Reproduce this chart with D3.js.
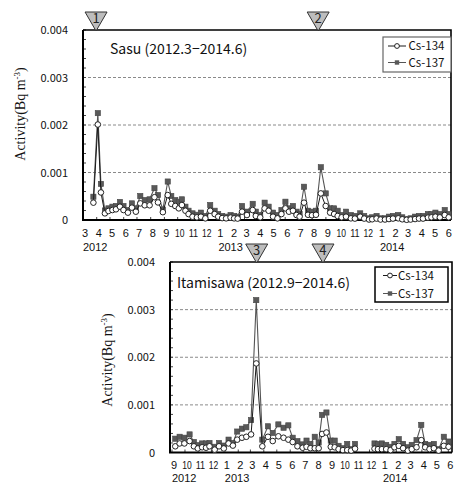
<!DOCTYPE html>
<html>
<head>
<meta charset="utf-8">
<script src="https://cdn.jsdelivr.net/npm/d3@7"></script>
<style>
  body { margin: 0; background: #fff; }
  svg { display: block; }
</style>
</head>
<body>
<svg id="chart" width="457" height="485"></svg>
<script>
// ---- Sasu monitoring station (2012.3 - 2014.6), Bq m^-3 ----
const sasuDates = [
  "2012-03-20","2012-03-30","2012-04-06","2012-04-15","2012-04-23","2012-05-02","2012-05-10","2012-05-19",
  "2012-05-27","2012-06-06","2012-06-15","2012-06-24","2012-07-04","2012-07-14","2012-07-25","2012-08-05",
  "2012-08-13","2012-08-24","2012-09-04","2012-09-12","2012-09-21","2012-09-29","2012-10-06","2012-10-14",
  "2012-10-21","2012-10-30","2012-11-09","2012-11-18","2012-11-28","2012-12-09","2012-12-19","2012-12-27",
  "2013-01-05","2013-01-14","2013-01-24","2013-02-01","2013-02-09","2013-02-19","2013-03-02","2013-03-15",
  "2013-03-22","2013-04-01","2013-04-11","2013-04-20","2013-04-30","2013-05-10","2013-05-19","2013-05-28",
  "2013-06-05","2013-06-14","2013-06-22","2013-06-29","2013-07-09","2013-07-18","2013-07-27","2013-08-05",
  "2013-08-16","2013-08-27","2013-09-06","2013-09-15","2013-09-23","2013-10-02","2013-10-12","2013-10-23",
  "2013-11-01","2013-11-13","2013-11-22","2013-12-03","2013-12-10","2013-12-20","2013-12-29","2014-01-08",
  "2014-01-17","2014-01-26","2014-02-07","2014-02-16","2014-02-26","2014-03-07","2014-03-17","2014-03-26",
  "2014-04-04","2014-04-15","2014-04-23","2014-05-02","2014-05-12","2014-05-23","2014-06-01"
];
const sasuCs134 = [
  0.000365,0.00201,0.00058,0.00014,0.00019,0.00021,0.000225,0.00028,
  0.00021,0.000155,0.00026,0.000175,0.00035,0.00031,0.00031,0.00048,
  0.00037,0.000165,0.000525,0.00034,0.000295,0.000245,0.000315,0.000195,
  0.000125,0.00007,0.000056,0.00007,0.000035,0.000195,0.000125,0.00007,
  0.00004,0.000035,0.00005,0.000035,0.00003,0.000175,0.000105,0.00021,
  0.000085,0.000056,0.000245,0.000195,0.00007,0.000035,0.000125,0.000245,
  0.000175,0.000195,0.000105,0.00007,0.000365,0.00011,0.0001,0.00011,
  0.00056,0.000295,0.000155,0.000125,0.000085,0.000056,0.00007,0.000035,
  0.00003,0.00007,0.00003,0.00001,0.000015,0.00003,0.00001,0.00001,
  0.00002,0.00003,0.000035,0.000015,0.000005,0.00001,0.00002,0.00003,
  0.00003,0.00005,0.000056,0.00007,0.000056,0.000105,0.000056
];
const sasuCs137 = [
  0.00049,0.00225,0.00076,0.0002,0.000245,0.00028,0.000295,0.00038,
  0.000295,0.00021,0.00035,0.000245,0.000505,0.00042,0.000435,0.00067,
  0.000525,0.00022,0.00081,0.000505,0.00042,0.000385,0.000435,0.00028,
  0.000195,0.00014,0.00011,0.000155,0.000085,0.000315,0.000195,0.000125,
  0.000085,0.00007,0.000105,0.000085,0.00007,0.000295,0.000175,0.00034,
  0.000175,0.000105,0.000365,0.00028,0.000155,0.000105,0.00021,0.000385,
  0.000245,0.000295,0.000175,0.000125,0.0007,0.000195,0.000175,0.000195,
  0.00111,0.00056,0.000245,0.000245,0.000195,0.000105,0.000175,0.000105,
  0.000085,0.00014,0.000085,0.000035,0.000056,0.000085,0.000035,0.000035,
  0.00007,0.000085,0.000105,0.000056,0.000015,0.000035,0.00007,0.000085,
  0.000085,0.000125,0.000125,0.000155,0.000125,0.00021,0.000125
];

// ---- Itamisawa monitoring station (2012.9 - 2014.6); null = no sampling ----
const itaDates = [
  "2012-09-04","2012-09-14","2012-09-25","2012-10-07","2012-10-17","2012-10-26","2012-11-05","2012-11-14",
  "2012-11-22","2012-12-04","2012-12-14","2012-12-25","2013-01-05","2013-01-15","2013-01-25","2013-02-05",
  "2013-02-15","2013-02-26","2013-03-10","2013-03-24","2013-04-06","2013-04-17","2013-04-30","2013-05-12",
  "2013-05-23","2013-06-02","2013-06-13","2013-06-25","2013-07-04","2013-07-13","2013-07-23","2013-08-01",
  "2013-08-09","2013-08-19","2013-08-29","2013-09-07","2013-09-16","2013-09-26","2013-10-06","2013-10-15",
  "2013-10-24","2013-11-15","2013-12-08","2013-12-16","2013-12-25","2014-01-04","2014-01-14","2014-01-23",
  "2014-02-02","2014-02-12","2014-02-23","2014-03-04","2014-03-15","2014-03-26","2014-04-04","2014-04-14",
  "2014-04-24","2014-05-05","2014-05-17","2014-05-28"
];
const itaCs134 = [
  0.00013,0.00019,0.00019,0.00024,0.00013,0.000085,0.00011,0.0001,
  0.00013,0.00006,0.00013,0.000085,0.00019,0.000145,0.00027,0.00031,
  0.00033,0.00038,0.00187,0.00013,0.00033,0.00024,0.00034,0.00031,
  0.00027,0.00022,0.00013,0.0001,0.00012,0.00009,0.00009,0.00009,
  0.00039,0.00042,0.00012,0.00011,0.00007,0.00005,0.00005,0.00004,
  0.00008,null,0.00008,0.00007,0.00007,0.00007,0.00005,0.00011,
  0.00014,0.00009,0.00004,0.00007,0.00011,0.00026,0.00011,0.00007,
  0.00009,0.00004,0.00014,0.00012
];
const itaCs137 = [
  0.00029,0.00033,0.00031,0.00038,0.00022,0.000155,0.00019,0.00019,
  0.0002,0.00012,0.0002,0.000145,0.00027,0.0002,0.00044,0.0005,
  0.00053,0.00068,0.0032,0.00027,0.00055,0.00041,0.00059,0.00052,
  0.00057,0.00031,0.00024,0.00017,0.00025,0.00018,0.00033,0.00021,
  0.00079,0.00084,0.00025,0.00025,0.00014,0.00009,0.00018,0.00007,
  0.00018,null,0.00019,0.00018,0.00019,0.00016,0.00012,0.00018,
  0.00028,0.00018,0.00011,0.00016,0.00026,0.00058,0.00018,0.00016,
  0.00018,0.00007,0.00033,0.00023
];

// Shared axis / legend content
const yTicks = [0, 0.001, 0.002, 0.003, 0.004];
const yTickLabels = ["0", "0.001", "0.002", "0.003", "0.004"];
const seriesNames = ["Cs-134", "Cs-137"];

// Numbered event markers above each panel
const sasuEventLabels = ["1", "2"];
const sasuEventDates = ["2012-03-26", "2013-08-10"];
const itaEventLabels = ["3", "4"];
const itaEventDates = ["2013-03-11", "2013-08-11"];

const parse = d3.utcParse("%Y-%m-%d");
const svg = d3.select("#chart");
svg.append("rect").attr("width", 457).attr("height", 485).attr("fill", "#fff");

const GOTHIC = "'Noto Sans CJK JP', 'Noto Sans', sans-serif";
const DIGITS = "'Liberation Sans', Arial, sans-serif";
const SERIF = "'Liberation Serif', 'DejaVu Serif', serif";

function drawPanel(cfg) {
  const g = svg.append("g");
  const x = d3.scaleUtc().domain([new Date(cfg.start), new Date(cfg.end)])
    .range([cfg.left, cfg.right]);
  const y = d3.scaleLinear().domain([0, 0.004]).range([cfg.bottom, cfg.top]);

  // dashed gridlines
  g.selectAll("line.grid").data(yTicks.filter(v => v > 0 && v < 0.004)).join("line")
    .attr("x1", cfg.left).attr("x2", cfg.right)
    .attr("y1", d => y(d)).attr("y2", d => y(d))
    .attr("stroke", "#8a8a8a").attr("stroke-width", 1).attr("stroke-dasharray", "3,2");

  // minor ticks on the value axis (inside)
  const minor = d3.range(0, 21).map(i => i * 0.0002);
  g.selectAll("line.minor").data(minor).join("line")
    .attr("x1", cfg.left).attr("x2", cfg.left + 3)
    .attr("y1", d => y(d)).attr("y2", d => y(d))
    .attr("stroke", "#444").attr("stroke-width", 1);

  // month ticks on the time axis (inside)
  const months = d3.utcMonth.range(new Date(cfg.firstMonth), d3.utcMonth.offset(new Date(cfg.lastMonth), 1));
  g.selectAll("line.mt").data(months).join("line")
    .attr("x1", d => x(d) - 2).attr("x2", d => x(d) - 2)
    .attr("y1", cfg.bottom).attr("y2", cfg.bottom - 3)
    .attr("stroke", "#444").attr("stroke-width", 1);

  // frame: top and right
  g.append("path")
    .attr("d", `M${cfg.left},${cfg.top}H${cfg.right}V${cfg.bottom}`)
    .attr("fill", "none").attr("stroke", "#000").attr("stroke-width", 1.6);
  // axes: left and bottom
  g.append("path")
    .attr("d", `M${cfg.left},${cfg.top}V${cfg.bottom}H${cfg.right}`)
    .attr("fill", "none").attr("stroke", "#000").attr("stroke-width", 2);

  // y tick labels
  g.selectAll("text.yl").data(yTicks).join("text")
    .attr("x", cfg.left - 15).attr("y", d => y(d) + 4)
    .attr("text-anchor", "end").attr("font-family", GOTHIC).attr("font-size", 11)
    .attr("fill", "#111")
    .text((d, i) => yTickLabels[i]);

  // month labels (two-digit months are set condensed)
  const fmt = d3.utcFormat("%-m");
  g.selectAll("text.ml").data(months).join("text")
    .attr("x", d => x(d)).attr("y", cfg.monthY)
    .attr("text-anchor", "middle").attr("font-family", DIGITS).attr("font-size", 11)
    .attr("fill", "#111")
    .each(function (d) {
      const s = fmt(d);
      const t = d3.select(this).text(s);
      if (s.length > 1) t.attr("textLength", 9.5).attr("lengthAdjust", "spacingAndGlyphs");
    });

  // year labels
  const years = months.filter((d, i) => i === 0 || d.getUTCMonth() === 0);
  g.selectAll("text.yr").data(years).join("text")
    .attr("x", d => x(d) - 2).attr("y", cfg.yearY)
    .attr("font-family", DIGITS).attr("font-size", 11).attr("fill", "#111")
    .text(d => d.getUTCFullYear());

  // y axis title
  const yt = g.append("text")
    .attr("transform", `translate(${cfg.yTitleX},${cfg.yTitleY}) rotate(-90)`)
    .attr("text-anchor", "middle").attr("font-family", SERIF).attr("font-size", 14)
    .attr("fill", "#111");
  yt.append("tspan").text("Activity(Bq m");
  yt.append("tspan").attr("font-size", 9).attr("dy", -5).text("-3");
  yt.append("tspan").attr("dy", 5).text(")");

  // panel title
  g.append("text").attr("x", cfg.titleX).attr("y", cfg.titleY)
    .attr("font-family", GOTHIC).attr("font-size", 14).attr("fill", "#111")
    .text(cfg.title);

  // series
  const rows = cfg.dates.map((d, i) => ({ t: parse(d), a: cfg.cs134[i], b: cfg.cs137[i] }));
  const line137 = d3.line().defined(d => d.b != null).x(d => x(d.t)).y(d => y(d.b));
  const line134 = d3.line().defined(d => d.a != null).x(d => x(d.t)).y(d => y(d.a));

  g.append("path").attr("d", line137(rows)).attr("fill", "none")
    .attr("stroke", "#555").attr("stroke-width", 1.1);
  g.selectAll("rect.s137").data(rows.filter(d => d.b != null)).join("rect")
    .attr("x", d => x(d.t) - 2.6).attr("y", d => y(d.b) - 2.6)
    .attr("width", 5.2).attr("height", 5.2)
    .attr("fill", "#595959").attr("stroke", "#444").attr("stroke-width", 0.6);

  g.append("path").attr("d", line134(rows)).attr("fill", "none")
    .attr("stroke", "#1a1a1a").attr("stroke-width", 1);
  g.selectAll("circle.s134").data(rows.filter(d => d.a != null)).join("circle")
    .attr("cx", d => x(d.t)).attr("cy", d => y(d.a)).attr("r", 2.8)
    .attr("fill", "#fff").attr("stroke", "#222").attr("stroke-width", 1);

  // legend
  const lg = cfg.legend;
  g.append("rect").attr("x", lg.x).attr("y", lg.y).attr("width", lg.w).attr("height", lg.h)
    .attr("fill", "#fff").attr("stroke", lg.stroke).attr("stroke-width", lg.sw);
  seriesNames.forEach((name, i) => {
    const cy = lg.y + lg.rowY[i];
    g.append("line").attr("x1", lg.lineX0).attr("x2", lg.lineX1)
      .attr("y1", cy).attr("y2", cy).attr("stroke", i === 0 ? "#1a1a1a" : "#555").attr("stroke-width", 1);
    const mx = (lg.lineX0 + lg.lineX1) / 2;
    if (i === 0) {
      g.append("circle").attr("cx", mx).attr("cy", cy).attr("r", 2.4)
        .attr("fill", "#fff").attr("stroke", "#222").attr("stroke-width", 1);
    } else {
      g.append("rect").attr("x", mx - 2.2).attr("y", cy - 2.2).attr("width", 4.4).attr("height", 4.4)
        .attr("fill", "#595959");
    }
    g.append("text").attr("x", lg.textX).attr("y", cy + 4)
      .attr("font-family", GOTHIC).attr("font-size", 11.5).attr("fill", "#111").text(name);
  });

  // event markers
  cfg.eventDates.forEach((d, i) => {
    const ex = x(parse(d));
    const top = cfg.top + 1;
    g.append("path")
      .attr("d", `M${ex - 11},${top - 19}H${ex + 11}L${ex},${top}Z`)
      .attr("fill", "#bdbdbd").attr("stroke", "#333").attr("stroke-width", 1);
    g.append("text").attr("x", ex).attr("y", top - 8)
      .attr("text-anchor", "middle").attr("font-family", GOTHIC).attr("font-size", 13)
      .attr("fill", "#222").text(cfg.eventLabels[i]);
  });
}

drawPanel({
  left: 83, right: 451, top: 30, bottom: 220,
  start: "2012-02-25T12:00:00Z", end: "2014-06-06T05:00:00Z",
  firstMonth: "2012-03-01", lastMonth: "2014-06-01",
  monthY: 237, yearY: 251,
  yTitleX: 25, yTitleY: 114,
  title: "Sasu (2012.3−2014.6)", titleX: 110, titleY: 54,
  dates: sasuDates, cs134: sasuCs134, cs137: sasuCs137,
  legend: { x: 383, y: 37, w: 68, h: 35, stroke: "#666", sw: 1.2,
            rowY: [9, 25.5], lineX0: 388, lineX1: 406, textX: 408.5 },
  eventDates: sasuEventDates, eventLabels: sasuEventLabels
});

drawPanel({
  left: 170, right: 452, top: 262, bottom: 452.5,
  start: "2012-08-22T19:00:00Z", end: "2014-06-04T22:00:00Z",
  firstMonth: "2012-09-01", lastMonth: "2014-06-01",
  monthY: 469, yearY: 482,
  yTitleX: 112, yTitleY: 360,
  title: "Itamisawa (2012.9−2014.6)", titleX: 177, titleY: 288,
  dates: itaDates, cs134: itaCs134, cs137: itaCs137,
  legend: { x: 375, y: 267, w: 73, h: 35, stroke: "#000", sw: 1.5,
            rowY: [8.5, 26.5], lineX0: 383, lineX1: 397, textX: 398 },
  eventDates: itaEventDates, eventLabels: itaEventLabels
});
</script>
</body>
</html>
